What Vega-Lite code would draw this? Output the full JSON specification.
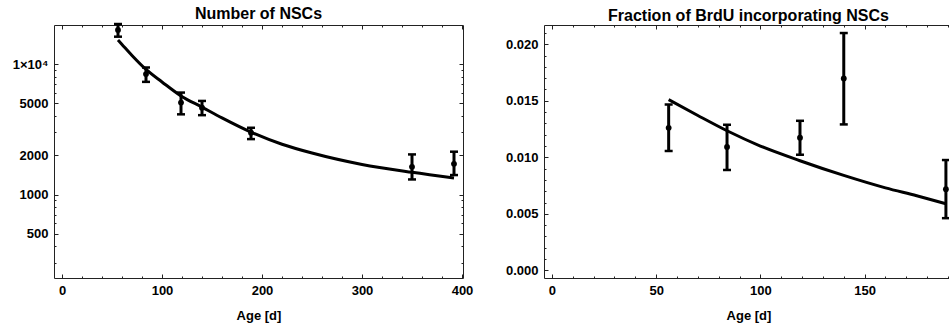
{
  "$schema": "https://vega.github.io/schema/vega-lite/v6.json",
  "background": "white",
  "autosize": {"type": "pad"},
  "padding": {"left": 11, "top": 5, "right": 0, "bottom": 0},
  "spacing": 81,
  "bounds": "flush",
  "config": {
    "font": "Liberation Sans",
    "view": {"stroke": "#222222", "strokeWidth": 1},
    "axis": {
      "labelFont": "Liberation Sans", "labelFontSize": 13, "labelFontWeight": "bold", "labelColor": "black",
      "titleFont": "Liberation Sans", "titleFontSize": 13, "titleFontWeight": "bold", "titleColor": "black",
      "tickColor": "#222222", "tickWidth": 1, "domain": false, "grid": false, "labelOverlap": false, "labelFlush": false
    },
    "title": {"font": "Liberation Sans", "fontSize": 16, "fontWeight": "bold", "color": "black", "offset": 0.1}
  },
  "hconcat": [
    {
      "width": 409, "height": 253,
      "title": {"text": "Number of NSCs"},
      "data": {"values": [
        {"age": 56, "n": 18300, "lo": 16230, "hi": 20300},
        {"age": 84, "n": 8380, "lo": 7310, "hi": 9420},
        {"age": 119, "n": 5070, "lo": 4120, "hi": 6050},
        {"age": 140, "n": 4630, "lo": 4060, "hi": 5220},
        {"age": 189, "n": 2980, "lo": 2660, "hi": 3250},
        {"age": 350, "n": 1630, "lo": 1305, "hi": 2030},
        {"age": 392, "n": 1720, "lo": 1410, "hi": 2130}
      ]},
      "layer": [
        {
          "mark": {"type": "rule", "strokeWidth": 3, "color": "black"},
          "encoding": {
            "x": {"field": "age", "type": "quantitative", "scale": {"domain": [-8, 401], "nice": false, "zero": false},
              "axis": {"orient": "bottom", "values": [0,20,40,60,80,100,120,140,160,180,200,220,240,260,280,300,320,340,360,380,400],
                "tickSize": {"condition": {"test": "datum.value % 100 === 0", "value": -4}, "value": -2},
                "labelExpr": "datum.value % 100 === 0 ? datum.label : ''", "labelPadding": 10, "title": "Age [d]", "titlePadding": 10}},
            "y": {"field": "lo", "type": "quantitative", "scale": {"type": "log", "domain": [229, 19950], "nice": false},
              "axis": {"orient": "left", "values": [300,400,500,600,700,800,900,1000,2000,3000,4000,5000,6000,7000,8000,9000,10000],
                "tickSize": {"condition": {"test": "indexof([500,1000,2000,5000,10000], datum.value) >= 0", "value": -4}, "value": -2},
                "labelExpr": "datum.value === 10000 ? '1×10⁴' : (indexof([500,1000,2000,5000], datum.value) >= 0 ? format(datum.value, 'd') : '')",
                "labelPadding": 10, "title": null}},
            "y2": {"field": "hi"}
          }
        },
        {
          "mark": {"type": "tick", "orient": "horizontal", "size": 8, "thickness": 2.5, "color": "black", "opacity": 1},
          "encoding": {
            "x": {"field": "age", "type": "quantitative", "scale": {"domain": [-8, 401], "nice": false, "zero": false}, "axis": null},
            "y": {"field": "lo", "type": "quantitative", "scale": {"type": "log", "domain": [229, 19950], "nice": false}, "axis": null}
          }
        },
        {
          "mark": {"type": "tick", "orient": "horizontal", "size": 8, "thickness": 2.5, "color": "black", "opacity": 1},
          "encoding": {
            "x": {"field": "age", "type": "quantitative", "scale": {"domain": [-8, 401], "nice": false, "zero": false}, "axis": null},
            "y": {"field": "hi", "type": "quantitative", "scale": {"type": "log", "domain": [229, 19950], "nice": false}, "axis": null}
          }
        },
        {
          "mark": {"type": "point", "filled": true, "size": 34, "color": "black", "opacity": 1},
          "encoding": {
            "x": {"field": "age", "type": "quantitative", "scale": {"domain": [-8, 401], "nice": false, "zero": false}, "axis": null},
            "y": {"field": "n", "type": "quantitative", "scale": {"type": "log", "domain": [229, 19950], "nice": false}, "axis": null}
          }
        },
        {
          "data": {"values": [
            {"age": 56, "n": 15300}, {"age": 60, "n": 14150}, {"age": 70, "n": 11650}, {"age": 84, "n": 9100},
            {"age": 100, "n": 7300}, {"age": 119, "n": 5700}, {"age": 140, "n": 4680}, {"age": 160, "n": 3870},
            {"age": 189, "n": 3010}, {"age": 220, "n": 2430}, {"age": 250, "n": 2080}, {"age": 300, "n": 1700},
            {"age": 350, "n": 1480}, {"age": 392, "n": 1340}
          ]},
          "mark": {"type": "line", "strokeWidth": 3, "color": "black", "interpolate": "monotone"},
          "encoding": {
            "x": {"field": "age", "type": "quantitative", "scale": {"domain": [-8, 401], "nice": false, "zero": false},
              "axis": {"orient": "top", "values": [0,20,40,60,80,100,120,140,160,180,200,220,240,260,280,300,320,340,360,380,400],
                "tickSize": {"condition": {"test": "datum.value % 100 === 0", "value": -4}, "value": -2},
                "labels": false, "title": null}},
            "y": {"field": "n", "type": "quantitative", "scale": {"type": "log", "domain": [229, 19950], "nice": false},
              "axis": {"orient": "right", "values": [300,400,500,600,700,800,900,1000,2000,3000,4000,5000,6000,7000,8000,9000,10000],
                "tickSize": {"condition": {"test": "indexof([500,1000,2000,5000,10000], datum.value) >= 0", "value": -4}, "value": -2},
                "labels": false, "title": null}}
          }
        }
      ]
    },
    {
      "width": 409, "height": 253,
      "title": {"text": "Fraction of BrdU incorporating NSCs"},
      "data": {"values": [
        {"age": 56, "f": 0.01261, "lo": 0.01056, "hi": 0.01467},
        {"age": 84, "f": 0.01091, "lo": 0.00888, "hi": 0.01288},
        {"age": 119, "f": 0.01173, "lo": 0.01023, "hi": 0.01323},
        {"age": 140, "f": 0.01697, "lo": 0.01291, "hi": 0.02099},
        {"age": 189, "f": 0.00718, "lo": 0.00462, "hi": 0.00976}
      ]},
      "layer": [
        {
          "mark": {"type": "rule", "strokeWidth": 3, "color": "black"},
          "encoding": {
            "x": {"field": "age", "type": "quantitative", "scale": {"domain": [-3.8, 192.4], "nice": false, "zero": false},
              "axis": {"orient": "bottom", "values": [0,10,20,30,40,50,60,70,80,90,100,110,120,130,140,150,160,170,180,190],
                "tickSize": {"condition": {"test": "datum.value % 50 === 0", "value": -4}, "value": -2},
                "labelExpr": "datum.value % 50 === 0 ? datum.label : ''", "labelPadding": 10, "title": "Age [d]", "titlePadding": 10}},
            "y": {"field": "lo", "type": "quantitative", "scale": {"domain": [-0.00067, 0.0217], "nice": false, "zero": false},
              "axis": {"orient": "left", "values": [0,0.001,0.002,0.003,0.004,0.005,0.006,0.007,0.008,0.009,0.01,0.011,0.012,0.013,0.014,0.015,0.016,0.017,0.018,0.019,0.02,0.021],
                "tickSize": {"condition": {"test": "round(datum.value * 1000) % 5 === 0", "value": -4}, "value": -2},
                "labelExpr": "round(datum.value * 1000) % 5 === 0 ? format(datum.value, '.3f') : ''",
                "labelPadding": 10, "title": null}},
            "y2": {"field": "hi"}
          }
        },
        {
          "mark": {"type": "tick", "orient": "horizontal", "size": 8, "thickness": 2.5, "color": "black", "opacity": 1},
          "encoding": {
            "x": {"field": "age", "type": "quantitative", "scale": {"domain": [-3.8, 192.4], "nice": false, "zero": false}, "axis": null},
            "y": {"field": "lo", "type": "quantitative", "scale": {"domain": [-0.00067, 0.0217], "nice": false, "zero": false}, "axis": null}
          }
        },
        {
          "mark": {"type": "tick", "orient": "horizontal", "size": 8, "thickness": 2.5, "color": "black", "opacity": 1},
          "encoding": {
            "x": {"field": "age", "type": "quantitative", "scale": {"domain": [-3.8, 192.4], "nice": false, "zero": false}, "axis": null},
            "y": {"field": "hi", "type": "quantitative", "scale": {"domain": [-0.00067, 0.0217], "nice": false, "zero": false}, "axis": null}
          }
        },
        {
          "mark": {"type": "point", "filled": true, "size": 34, "color": "black", "opacity": 1},
          "encoding": {
            "x": {"field": "age", "type": "quantitative", "scale": {"domain": [-3.8, 192.4], "nice": false, "zero": false}, "axis": null},
            "y": {"field": "f", "type": "quantitative", "scale": {"domain": [-0.00067, 0.0217], "nice": false, "zero": false}, "axis": null}
          }
        },
        {
          "data": {"values": [
            {"age": 56, "f": 0.0151}, {"age": 70, "f": 0.0137}, {"age": 84, "f": 0.01235}, {"age": 100, "f": 0.0110},
            {"age": 119, "f": 0.0097}, {"age": 140, "f": 0.0084}, {"age": 160, "f": 0.0073}, {"age": 175, "f": 0.0066},
            {"age": 189, "f": 0.0059}
          ]},
          "mark": {"type": "line", "strokeWidth": 3, "color": "black", "interpolate": "monotone"},
          "encoding": {
            "x": {"field": "age", "type": "quantitative", "scale": {"domain": [-3.8, 192.4], "nice": false, "zero": false},
              "axis": {"orient": "top", "values": [0,10,20,30,40,50,60,70,80,90,100,110,120,130,140,150,160,170,180,190],
                "tickSize": {"condition": {"test": "datum.value % 50 === 0", "value": -4}, "value": -2},
                "labels": false, "title": null}},
            "y": {"field": "f", "type": "quantitative", "scale": {"domain": [-0.00067, 0.0217], "nice": false, "zero": false},
              "axis": {"orient": "right", "values": [0,0.001,0.002,0.003,0.004,0.005,0.006,0.007,0.008,0.009,0.01,0.011,0.012,0.013,0.014,0.015,0.016,0.017,0.018,0.019,0.02,0.021],
                "tickSize": {"condition": {"test": "round(datum.value * 1000) % 5 === 0", "value": -4}, "value": -2},
                "labels": false, "title": null}}
          }
        }
      ]
    }
  ]
}
